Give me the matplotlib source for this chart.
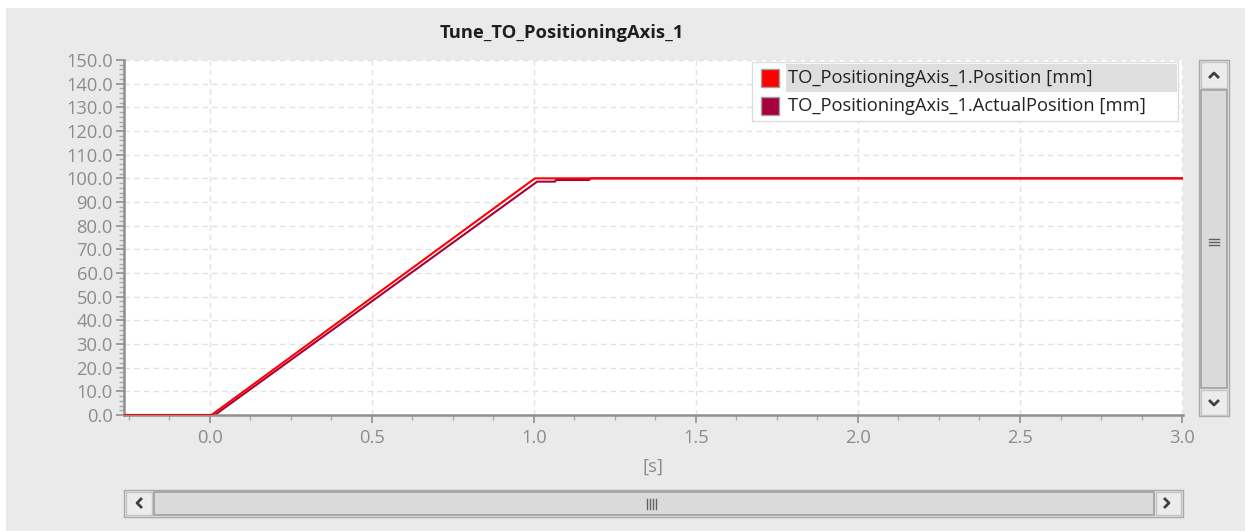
import numpy as np
import matplotlib.pyplot as plt
from matplotlib.patches import Rectangle
from matplotlib.ticker import MultipleLocator, FormatStrFormatter

# Setpoint and actual position traces (time in s, position in mm)
position_t = [-0.27, 0.005, 1.003, 3.01]
position_y = [0.0, 0.0, 100.0, 100.0]

actual_t = [-0.27, 0.015, 1.01, 1.065, 1.068, 1.17, 1.175, 3.01]
actual_y = [0.0, 0.0, 98.6, 98.6, 99.3, 99.3, 100.0, 100.0]

series_names = ["TO_PositioningAxis_1.Position [mm]",
                "TO_PositioningAxis_1.ActualPosition [mm]"]
series_colors = ["#ff0000", "#a8003c"]

title = "Tune_TO_PositioningAxis_1"
x_label = "[s]"

W, H = 1245, 531
plt.rcParams['font.family'] = ['Open Sans', 'DejaVu Sans']
FS = 13.2

fig = plt.figure(figsize=(W / 100, H / 100), dpi=100, facecolor='white')


def px_rect(x0, y0, x1, y1):
    """Figure-fraction rect from pixel box (top-left origin)."""
    return [x0 / W, 1 - y1 / H, (x1 - x0) / W, (y1 - y0) / H]


# background overlay in pixel coordinates
bg = fig.add_axes([0, 0, 1, 1], zorder=0)
bg.set_xlim(0, W)
bg.set_ylim(H, 0)
bg.axis('off')
bg.add_patch(Rectangle((6, 8), W - 6, H - 8, color='#eaeaea', lw=0))

# main plot
ax = fig.add_axes(px_rect(124, 60, 1183, 415), zorder=2)
ax.plot(position_t, position_y, color=series_colors[0], lw=1.5, zorder=3)
ax.plot(actual_t, actual_y, color=series_colors[1], lw=1.5, zorder=2)

ax.set_xlim(-0.265, 3.003)
ax.set_ylim(0, 150)
ax.xaxis.set_major_locator(MultipleLocator(0.5))
ax.xaxis.set_minor_locator(MultipleLocator(0.125))
ax.yaxis.set_major_locator(MultipleLocator(10))
ax.yaxis.set_minor_locator(MultipleLocator(2))
ax.xaxis.set_major_formatter(FormatStrFormatter('%.1f'))
ax.yaxis.set_major_formatter(FormatStrFormatter('%.1f'))
ax.grid(True, which='major', color='#e2e2e2', ls=(0, (4, 3)), lw=1.0)
for side in ['top', 'right']:
    ax.spines[side].set_visible(False)
for side in ['left', 'bottom']:
    ax.spines[side].set_color('#8f8f8f')
    ax.spines[side].set_linewidth(1.8)
ax.tick_params(which='major', length=6, width=1.2, color='#8f8f8f',
               labelcolor='#8c8c8c', labelsize=FS, pad=2)
ax.tick_params(which='minor', length=3.5, width=1.0, color='#a8a8a8')
ax.tick_params(axis='x', which='major', pad=4)
ax.set_xlabel(x_label, color='#8c8c8c', fontsize=FS, labelpad=8)
fig.text(562 / W, 1 - 33 / H, title, ha='center', va='center',
         fontsize=FS, fontweight='bold', color='#1e1e1e')

# legend drawn in pixel coordinates on top
top = fig.add_axes([0, 0, 1, 1], zorder=5)
top.set_xlim(0, W)
top.set_ylim(H, 0)
top.axis('off')
top.patch.set_alpha(0)
top.add_patch(Rectangle((752, 62), 426, 59, facecolor='white', edgecolor='#dcdcdc', lw=1))
top.add_patch(Rectangle((786, 64), 391, 28, facecolor='#dedede', lw=0))
for i, (name, col) in enumerate(zip(series_names, series_colors)):
    yc = 78 + i * 28
    top.add_patch(Rectangle((761, yc - 9), 18, 18, facecolor=col, edgecolor='#a0a0a0', lw=1))
    top.text(788, yc, name, fontsize=FS, color='#222222', va='center', ha='left')

# vertical scrollbar
bg.add_patch(Rectangle((1199, 60), 30, 356, facecolor='#e6e6e6', edgecolor='#a8a8a8', lw=1))
bg.add_patch(Rectangle((1201, 62), 26, 26, facecolor='#ececec', edgecolor='#c4c4c4', lw=1))
bg.add_patch(Rectangle((1201, 90), 26, 298, facecolor='#dadada', edgecolor='#a0a0a0', lw=1.2))
bg.add_patch(Rectangle((1201, 390), 26, 25, facecolor='#ececec', edgecolor='#c4c4c4', lw=1))
bg.plot([1210, 1214, 1218], [77, 73, 77], color='#404040', lw=2)
bg.plot([1210, 1214, 1218], [401, 405, 401], color='#404040', lw=2)
for dy in (-3, 0, 3):
    bg.plot([1209, 1219], [242 + dy, 242 + dy], color='#606060', lw=1)

# horizontal scrollbar
bg.add_patch(Rectangle((124, 490), 1059, 27, facecolor='#e6e6e6', edgecolor='#a8a8a8', lw=1))
bg.add_patch(Rectangle((126, 492), 26, 23, facecolor='#ececec', edgecolor='#c4c4c4', lw=1))
bg.add_patch(Rectangle((154, 492), 1000, 23, facecolor='#dadada', edgecolor='#a0a0a0', lw=1.2))
bg.add_patch(Rectangle((1156, 492), 25, 23, facecolor='#ececec', edgecolor='#c4c4c4', lw=1))
bg.plot([141, 137, 141], [499, 503, 507], color='#404040', lw=2)
bg.plot([1165, 1169, 1165], [499, 503, 507], color='#404040', lw=2)
for dx in (-4.5, -1.5, 1.5, 4.5):
    bg.plot([651 + dx, 651 + dx], [499, 509], color='#606060', lw=1)

fig.savefig('out.png', dpi=100, facecolor='white')
